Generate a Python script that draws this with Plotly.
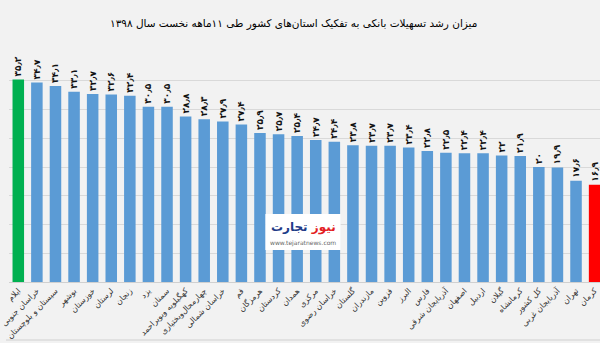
import plotly.graph_objects as go

provinces = ["ایلام", "خراسان جنوبی", "سیستان و بلوچستان", "بوشهر", "خوزستان", "لرستان", "زنجان", "یزد",
             "سمنان", "کهگیلویه وبویراحمد", "چهارمحال‌وبختیاری", "خراسان شمالی", "قم", "هرمزگان", "کردستان",
             "همدان", "مرکزی", "خراسان رضوی", "گلستان", "مازندران", "قزوین", "البرز", "فارس",
             "آذربایجان شرقی", "اصفهان", "اردبیل", "گیلان", "کرمانشاه", "کل کشور", "آذربایجان غربی",
             "تهران", "کرمان"]
growth = [35.2, 34.7, 34.1, 33.1, 32.7, 32.6, 32.4, 30.5, 30.5, 28.8, 28.3, 27.9, 27.4, 25.9, 25.7,
          25.4, 24.7, 24.4, 23.8, 23.7, 23.7, 23.4, 22.8, 22.5, 22.4, 22.4, 22.0, 21.9, 20.0, 19.9,
          17.6, 16.9]

title_text = "میزان رشد تسهیلات بانکی به تفکیک استان‌های کشور طی ۱۱ماهه نخست سال ۱۳۹۸"

FA = str.maketrans("0123456789.", "۰۱۲۳۴۵۶۷۸۹٫")


def fa_num(v):
    s = ("%.1f" % v).rstrip("0").rstrip(".")
    return s.translate(FA)


colors = []
for i, v in enumerate(growth):
    if i == 0:
        colors.append("#00b050")
    elif i == len(growth) - 1:
        colors.append("#ff0000")
    else:
        colors.append("#5b9bd5")

FONT = "DejaVu Sans"
W, H = 600, 343
ML, MR, MT, MB = 3, 0, 52, 61
PW, PH = W - ML - MR, H - MT - MB


def px(x):
    return (x - ML) / PW


def py(y):
    return (H - MB - y) / PH


fig = go.Figure(go.Bar(
    x=list(range(len(provinces))),
    y=growth,
    marker=dict(color=colors, line=dict(width=0)),
    text=["<b>%s</b>" % fa_num(v) for v in growth],
    textposition="outside",
    textangle=-90,
    textfont=dict(family=FONT, size=9, color="#111111"),
    cliponaxis=False,
    constraintext="none",
))

fig.update_layout(
    width=W, height=H,
    margin=dict(l=ML, r=MR, t=MT, b=MB, pad=0),
    paper_bgcolor="#f2f2f2",
    plot_bgcolor="#f2f2f2",
    bargap=0.38,
    showlegend=False,
    annotations=[
        dict(xref="paper", yref="paper", x=px(478), y=py(23), xanchor="right", yanchor="middle",
             text=title_text, showarrow=False,
             font=dict(family=FONT, size=10.5, color="#000000")),
        dict(xref="paper", yref="paper", x=px(300), y=py(227), xanchor="center", yanchor="middle",
             text="<b><span style='color:#e31e24'>نیوز</span> <span style='color:#1f3c88'>تجارت</span></b>",
             showarrow=False, font=dict(family=FONT, size=12)),
        dict(xref="paper", yref="paper", x=px(300), y=py(243), xanchor="center", yanchor="middle",
             text="www.tejaratnews.com", showarrow=False,
             font=dict(family=FONT, size=6, color="#666666")),
    ],
    xaxis=dict(
        tickmode="array",
        tickvals=list(range(len(provinces))),
        ticktext=provinces,
        tickangle=-45,
        ticklabeloverflow="allow",
        tickfont=dict(family=FONT, size=8, color="#333333"),
        range=[-0.5, 31.29],
        showgrid=False,
        showline=True, linecolor="#d0d0d0", linewidth=1,
        ticks="",
        fixedrange=True,
    ),
    yaxis=dict(
        range=[0, 40],
        dtick=5,
        showgrid=True, gridcolor="#d9d9d9", gridwidth=1,
        showticklabels=False,
        zeroline=False,
        fixedrange=True,
    ),
    shapes=[
        dict(type="line", xref="paper", yref="paper", x0=px(0), x1=px(600), y0=py(340), y1=py(340),
             line=dict(color="#d0d0d0", width=1)),
        dict(type="rect", xref="paper", yref="paper", x0=px(262), x1=px(338), y0=py(250), y1=py(214),
             fillcolor="white", line=dict(width=0), layer="above"),
    ],
)

fig.write_html("out.html")
